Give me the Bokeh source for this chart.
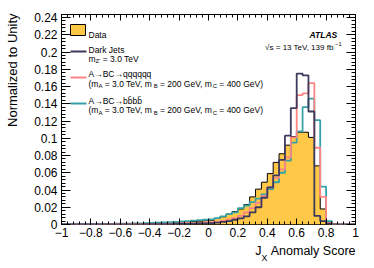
import math
from bokeh.plotting import figure
from bokeh.models import Label, FixedTicker, LinearAxis, CustomJSTickFormatter, BoxAnnotation
from bokeh.embed import file_html
from bokeh.resources import INLINE

# ---------------- data ----------------
bin_edges = [round(-1 + 0.04 * i, 2) for i in range(51)]

data_vals = [0.0003, 0.0003, 0.0003, 0.0004, 0.0004, 0.0004, 0.0005, 0.0005, 0.0006, 0.0006,
             0.0007, 0.0008, 0.0009, 0.0010, 0.0011, 0.0013, 0.0015, 0.0017, 0.0020, 0.0023,
             0.0026, 0.0030, 0.0034, 0.0039, 0.0044,
             0.005, 0.007, 0.009, 0.012, 0.015, 0.018, 0.023, 0.032, 0.041, 0.049,
             0.059, 0.072, 0.082, 0.092, 0.102, 0.107, 0.107, 0.101, 0.068, 0.018,
             0.002, 0.0003, 0.0, 0.0, 0.0]

dark_jets = [0.0001, 0.0001, 0.0001, 0.0001, 0.0001, 0.0001, 0.0001, 0.0001, 0.0001, 0.0001,
             0.0002, 0.0002, 0.0002, 0.0002, 0.0003, 0.0003, 0.0004, 0.0004, 0.0005, 0.0006,
             0.0007, 0.0008, 0.0010, 0.0012, 0.0014,
             0.0017, 0.0022, 0.0030, 0.0040, 0.0055, 0.0072, 0.0095, 0.014, 0.020, 0.031,
             0.043, 0.057, 0.075, 0.103, 0.135, 0.175, 0.173, 0.131, 0.010, 0.004,
             0.001, 0.0002, 0.0, 0.0, 0.0]

sig_qqqqqq = [0.0001, 0.0001, 0.0001, 0.0001, 0.0002, 0.0002, 0.0002, 0.0002, 0.0003, 0.0003,
              0.0003, 0.0004, 0.0004, 0.0005, 0.0005, 0.0006, 0.0007, 0.0008, 0.0009, 0.0011,
              0.0013, 0.0015, 0.0017, 0.0020, 0.0023,
              0.0027, 0.0033, 0.0042, 0.0055, 0.0075, 0.010, 0.014, 0.019, 0.025, 0.033,
              0.043, 0.054, 0.064, 0.078, 0.101, 0.150, 0.152, 0.164, 0.089, 0.032,
              0.002, 0.0003, 0.0, 0.0, 0.0]

sig_bbbb = [0.0004, 0.0004, 0.0005, 0.0005, 0.0005, 0.0006, 0.0006, 0.0007, 0.0008, 0.0009,
            0.0010, 0.0011, 0.0012, 0.0014, 0.0016, 0.0018, 0.0021, 0.0024, 0.0027, 0.0031,
            0.0035, 0.0040, 0.0045, 0.0050, 0.0055,
            0.006, 0.0075, 0.0095, 0.012, 0.014, 0.019, 0.022, 0.026, 0.030, 0.035,
            0.041, 0.049, 0.060, 0.074, 0.095, 0.108, 0.136, 0.146, 0.121, 0.044,
            0.004, 0.0005, 0.0, 0.0, 0.0]

x_ticks = [-1.0, -0.8, -0.6, -0.4, -0.2, 0.0, 0.2, 0.4, 0.6, 0.8, 1.0]
x_tick_labels = ["\u22121", "\u22120.8", "\u22120.6", "\u22120.4", "\u22120.2", "0",
                 "0.2", "0.4", "0.6", "0.8", "1"]
x_minor = [round(-1 + 0.04 * i, 2) for i in range(51)]
y_ticks = [0.0, 0.02, 0.04, 0.06, 0.08, 0.1, 0.12, 0.14, 0.16, 0.18, 0.2, 0.22, 0.24]
y_tick_labels = ["0", "0.02", "0.04", "0.06", "0.08", "0.1", "0.12", "0.14", "0.16",
                 "0.18", "0.2", "0.22", "0.24"]
y_minor = [round(0.004 * i, 3) for i in range(61)]

C_DATA = "#ffc846"
C_DJ = "#3b3b5e"
C_QQ = "#ff8585"
C_BB = "#36a2a8"
FONT = "Liberation Sans"

# ---------------- figure ----------------
YMAX = 0.2435
FL, FT, FW, FH = 61, 14, 294, 210   # frame left/top/width/height in page pixels
p = figure(frame_width=FW, frame_height=FH, x_range=(-1, 1), y_range=(0, YMAX),
           output_backend="svg", toolbar_location=None,
           min_border_left=FL, min_border_right=374 - FL - FW,
           min_border_top=FT, min_border_bottom=268 - FT - FH)
p.grid.visible = False
p.outline_line_color = "black"
p.outline_line_width = 1
p.background_fill_color = "white"
p.border_fill_color = "white"

fmt_js = "const i = tks.findIndex(t => Math.abs(t - tick) < 1e-9); return i >= 0 ? lbls[i] : '';"

def X(px):
    return -1 + 2.0 * (px - FL) / FW

def Y(py):
    return YMAX * (FT + FH - py) / FH

def style_axis(ax, tin, tmin, labels):
    ax.axis_line_color = None
    ax.major_tick_in = tin
    ax.major_tick_out = 0
    ax.minor_tick_in = tmin
    ax.minor_tick_out = 0
    ax.major_tick_line_color = "black"
    ax.minor_tick_line_color = "black"
    if not labels:
        ax.major_label_text_font_size = "0px"
        ax.major_label_standoff = 0

xb = p.xaxis[0]
xb.ticker = FixedTicker(ticks=x_ticks, minor_ticks=x_minor)
xb.formatter = CustomJSTickFormatter(args=dict(tks=x_ticks, lbls=x_tick_labels), code=fmt_js)
style_axis(xb, 6, 3, True)
xb.major_label_text_font = FONT
xb.major_label_text_font_size = "12px"
xb.major_label_text_color = "black"
xb.major_label_standoff = 3

yl = p.yaxis[0]
yl.ticker = FixedTicker(ticks=y_ticks, minor_ticks=y_minor)
yl.formatter = CustomJSTickFormatter(args=dict(tks=y_ticks, lbls=y_tick_labels), code=fmt_js)
style_axis(yl, 9, 4, True)
yl.major_label_text_font = FONT
yl.major_label_text_font_size = "12px"
yl.major_label_text_color = "black"
yl.major_label_standoff = 4

xt = LinearAxis(ticker=FixedTicker(ticks=x_ticks, minor_ticks=x_minor),
                formatter=CustomJSTickFormatter(code="return '';"))
style_axis(xt, 6, 3, False)
p.add_layout(xt, "above")
yr = LinearAxis(ticker=FixedTicker(ticks=y_ticks, minor_ticks=y_minor),
                formatter=CustomJSTickFormatter(code="return '';"))
style_axis(yr, 9, 4, False)
p.add_layout(yr, "right")

# ---------------- histograms ----------------
def ext(v):
    return list(v) + [v[-1]]

p.varea_step(x=bin_edges, y1=[0.0] * len(bin_edges), y2=ext(data_vals), step_mode="after",
             fill_color=C_DATA)
p.step(x=bin_edges, y=ext(data_vals), mode="after", line_color="black", line_width=1)
p.step(x=bin_edges, y=ext(sig_bbbb), mode="after", line_color=C_BB, line_width=1.8)
p.step(x=bin_edges, y=ext(sig_qqqqqq), mode="after", line_color=C_QQ, line_width=1.8)
p.step(x=bin_edges, y=ext(dark_jets), mode="after", line_color=C_DJ, line_width=1.8)

# ---------------- text helpers ----------------
W = {' ': 278, '(': 333, ')': 333, ',': 278, '.': 278, '=': 584, "'": 191, '-': 333,
     '\u2212': 584, '\u2192': 1000, '\u221a': 549, '\u0304': 0,
     'A': 667, 'B': 667, 'C': 722, 'D': 722, 'G': 778, 'J': 500, 'S': 667, 'T': 611,
     'V': 667, 'X': 667, 'Z': 611, 'U': 722, 'N': 722,
     'a': 556, 'b': 556, 'c': 500, 'd': 556, 'e': 556, 'f': 278, 'i': 222, 'k': 500,
     'l': 222, 'm': 833, 'n': 556, 'o': 556, 'q': 556, 'r': 333, 's': 500, 't': 278,
     'y': 500, 'z': 500}
for d in "0123456789":
    W[d] = 556

def tw(s, size):
    return sum(W.get(ch, 556) for ch in s) * size / 1000.0

def rich(x_px, base_px, parts, size, align="left", style="normal", color="black"):
    sizes = [size * 0.7 if m != "n" else size for _, m in parts]
    widths = [tw(t, s) for (t, _), s in zip(parts, sizes)]
    x = x_px - sum(widths) if align == "right" else x_px
    for (t, m), s, w in zip(parts, sizes, widths):
        dy = 0.3 * size if m == "sub" else (-0.42 * size if m == "sup" else 0.0)
        stripped = t.lstrip(" ")
        lead = tw(t[:len(t) - len(stripped)], s)
        if stripped:
            p.add_layout(Label(x=X(x + lead), y=Y(base_px + dy), text=stripped,
                               text_font=FONT, text_font_size=f"{s:.2f}px",
                               text_font_style=style, text_color=color,
                               text_align="left", text_baseline="alphabetic"))
        x += w

def text_axis(side, ticks, labels, size, standoff, orientation="horizontal"):
    ax = LinearAxis(ticker=FixedTicker(ticks=ticks, minor_ticks=[]),
                    formatter=CustomJSTickFormatter(args=dict(tks=ticks, lbls=labels), code=fmt_js))
    ax.axis_line_color = None
    ax.major_tick_line_color = None
    ax.minor_tick_line_color = None
    ax.major_tick_in = 0
    ax.major_tick_out = 0
    ax.minor_tick_in = 0
    ax.minor_tick_out = 0
    ax.major_label_text_font = FONT
    ax.major_label_text_font_size = f"{size}px"
    ax.major_label_text_color = "black"
    ax.major_label_standoff = standoff
    ax.major_label_orientation = orientation
    p.add_layout(ax, side)

# x-axis title "J_X Anomaly Score", right-aligned at the frame's right edge
XT = 12.5
right = FL + FW
w_as = tw("Anomaly Score", XT)
w_sp = tw(" ", XT)
w_x = tw("X", XT * 0.7)
w_j = tw("J", XT)
c_as = right - w_as / 2
c_x = right - w_as - w_sp - w_x / 2
c_j = right - w_as - w_sp - w_x - w_j / 2
text_axis("below", [X(c_j), X(c_as)], ["J", "Anomaly Score"], XT, 4)
text_axis("below", [X(c_x)], ["X"], round(XT * 0.7, 2), -8)

# y-axis title, top-aligned near the frame's top
YT = 13
y_len = tw("Normalized to Unity", YT)
text_axis("left", [Y(13 + y_len / 2)], ["Normalized to Unity"], YT, 11, orientation="vertical")

# ATLAS labels
rich(336, 34.3, [("ATLAS", "n")], 8.5, align="right", style="bold italic")
rich(341, 46.5, [("\u221as = 13 TeV, 139 fb", "n"), ("\u22121", "sup")], 8.0, align="right")

# legend
LF = 8.5
p.add_layout(BoxAnnotation(left=X(70), right=X(85), top=Y(24), bottom=Y(35),
                           fill_color=C_DATA, fill_alpha=1.0, line_color="black",
                           line_width=1, line_alpha=1.0))
for col, ly in [(C_DJ, 51), (C_QQ, 77), (C_BB, 103)]:
    p.segment(x0=[X(70)], y0=[Y(ly)], x1=[X(86)], y1=[Y(ly)], line_color=col, line_width=1.8)

masses = [("(m", "n"), ("A", "sub"), (" = 3.0 TeV, m", "n"), ("B", "sub"),
          (" = 200 GeV, m", "n"), ("C", "sub"), (" = 400 GeV)", "n")]
rich(88, 34, [("Data", "n")], LF)
rich(88, 49, [("Dark Jets", "n")], LF)
rich(88, 58, [("m", "n"), ("Z'", "sub"), (" = 3.0 TeV", "n")], LF)
rich(88, 73.5, [("A\u2192BC\u2192qqqqqq", "n")], LF)
rich(88, 83, masses, LF)
rich(88, 100, [("A\u2192BC\u2192bb\u0304bb\u0304", "n")], LF)
rich(88, 109.5, masses, LF)

open("out.html", "w").write(file_html(p, INLINE))
